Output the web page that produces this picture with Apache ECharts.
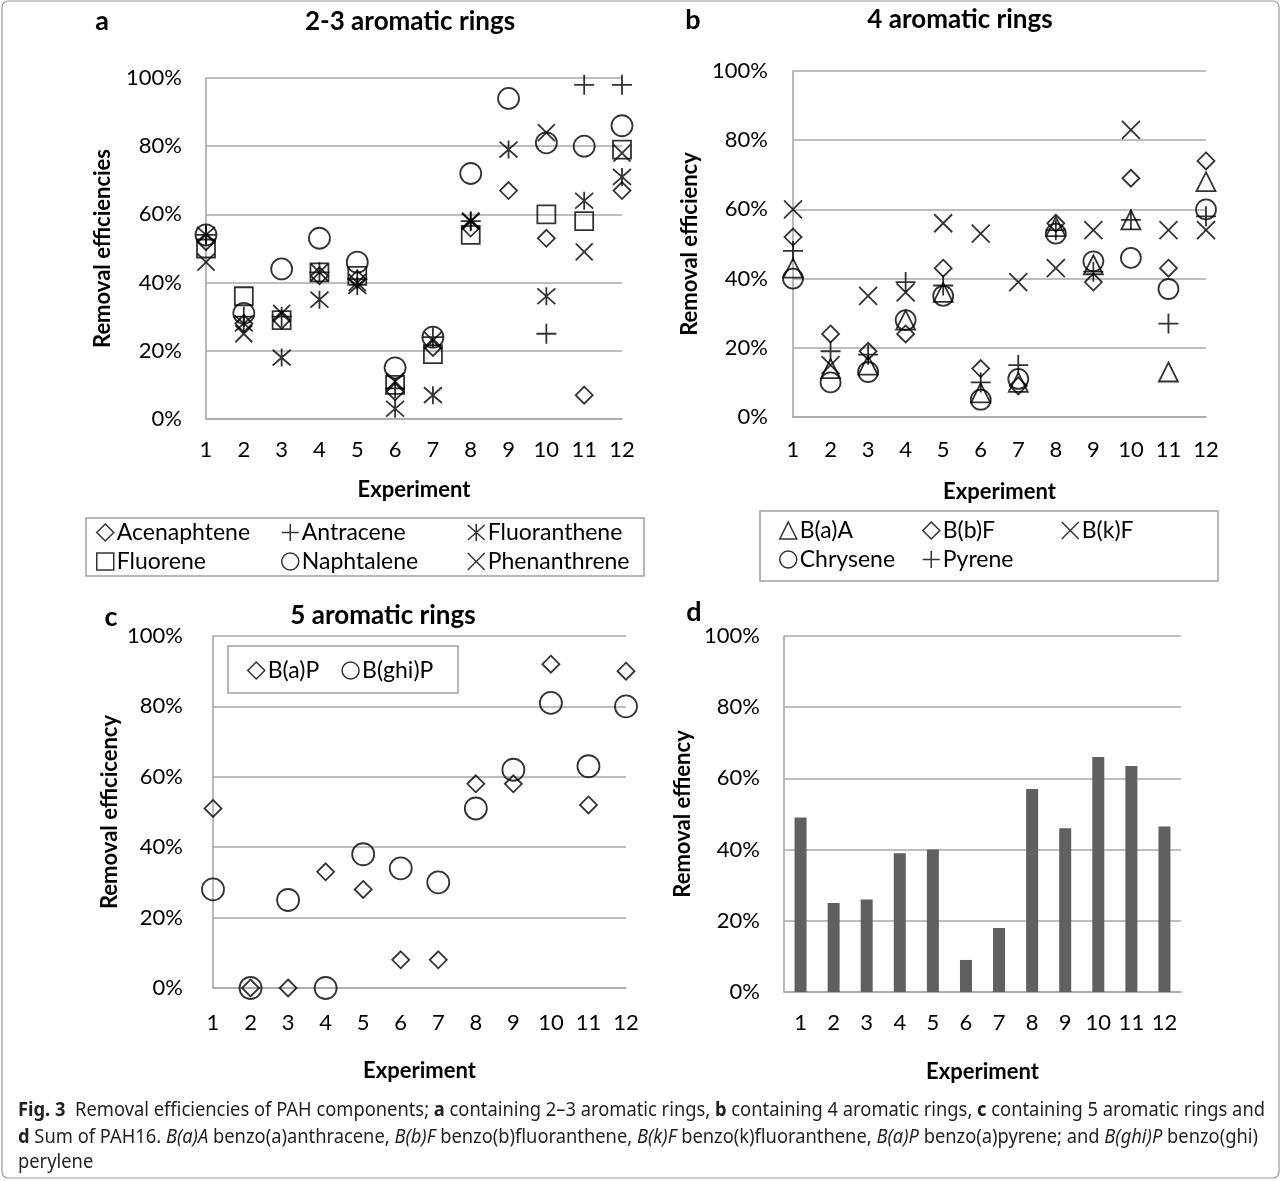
<!DOCTYPE html>
<html>
<head>
<meta charset="utf-8">
<script src="https://cdn.jsdelivr.net/npm/echarts@6/dist/echarts.min.js"></script>
<style>
html,body{margin:0;padding:0;background:#fff;}
#main{width:1282px;height:1181px;}
</style>
</head>
<body>
<div id="main"></div>
<script>
// ---------------- DATA ----------------
const experiments = ['1','2','3','4','5','6','7','8','9','10','11','12'];

// Panel a: 2-3 aromatic rings (removal %)
const acenaphtene  = [52, 28, 29, 42, 41, 8, 21, 56, 67, 53, 7, 67];
const antracene    = [54, 30, 30, 43, 41, 9, 24, 58, null, 25, 98, 98];
const fluoranthene = [54, 28, 18, 35, 39, 3, 7, 58, 79, 36, 64, 71];
const fluorene     = [50, 36, 29, 43, 42, 10, 19, 54, null, 60, 58, 79];
const naphtalene   = [54, 31, 44, 53, 46, 15, 24, 72, 94, 81, 80, 86];
const phenanthrene = [46, 25, 31, 43, 40, 11, 23, 58, null, 84, 49, 78];

// Panel b: 4 aromatic rings
const baa      = [43, 14, 15, 28, 36, 7, 10, 55, 44, 57, 13, 68];
const bbf      = [52, 24, 19, 24, 43, 14, 9, 56, 39, 69, 43, 74];
const bkf      = [60, 15, 35, 36, 56, 53, 39, 43, 54, 83, 54, 54];
const chrysene = [40, 10, 13, 28, 35, 5, 11, 53, 45, 46, 37, 60];
const pyrene   = [48, 19, 18, 39, 38, 10, 15, 54, 42, 57, 27, 58];

// Panel c: 5 aromatic rings
const bap   = [51, 0, 0, 33, 28, 8, 8, 58, 58, 92, 52, 90];
const bghip = [28, 0, 25, 0, 38, 34, 30, 51, 62, 81, 63, 80];

// Panel d: sum of PAH16
const sumPAH = [49, 25, 26, 39, 40, 9, 18, 57, 46, 66, 63.5, 46.5];

// y ticks
const yMin = 0, yMax = 100, yStep = 20;

// ---------------- STYLE ----------------
const FONT = 'Lato';
const GRID_COLOR = '#a8a8a8';
const SYM = {
  plus: 'path://M5,0L5,10M0,5L10,5',
  cross: 'path://M0,0L10,10M10,0L0,10',
  aster: 'path://M0,0.6L10,9.4M10,0.6L0,9.4M5,0L5,10'
};
const markerStyle = {color: 'transparent', borderColor: '#000', borderWidth: 1.8};

function makeX(gi, gap, margin, boundaryGap) {
  return {
    type: 'category', gridIndex: gi, data: experiments, boundaryGap: boundaryGap,
    axisLine: {show: true, lineStyle: {color: GRID_COLOR, width: 1.6}},
    axisTick: {show: false},
    axisLabel: {fontSize: 22, color: '#000', fontFamily: FONT, margin: margin, interval: 0},
    name: 'Experiment', nameLocation: 'middle', nameGap: gap,
    nameTextStyle: {fontSize: 22, fontWeight: 'bold', color: '#000', fontFamily: FONT}
  };
}
function makeY(gi, name, gap, margin) {
  return {
    type: 'value', gridIndex: gi, min: yMin, max: yMax, interval: yStep,
    axisLine: {show: true, lineStyle: {color: GRID_COLOR, width: 1.6}},
    axisTick: {show: false},
    splitLine: {lineStyle: {color: GRID_COLOR, width: 1.6}},
    axisLabel: {fontSize: 22, color: '#000', fontFamily: FONT, margin: margin, formatter: '{value}%'},
    name: name, nameLocation: 'middle', nameGap: gap, nameRotate: 90,
    nameTextStyle: {fontSize: 22, fontWeight: 'bold', color: '#000', fontFamily: FONT}
  };
}
function sc(name, data, gi, symbol, size) {
  return {
    type: 'scatter', name: name, xAxisIndex: gi, yAxisIndex: gi, data: data,
    symbol: symbol, symbolSize: size, itemStyle: markerStyle, silent: true, animation: false
  };
}
function legend(names, left, top) {
  return {
    data: names, orient: 'vertical', left: left, top: top, padding: 0, itemGap: 6,
    itemWidth: 17, itemHeight: 17, selectedMode: false,
    itemStyle: {color: 'transparent', borderColor: '#000', borderWidth: 1.5},
    textStyle: {fontSize: 23, color: '#000', fontFamily: FONT, padding: [0, 0, 0, -2]}
  };
}

const chart = echarts.init(document.getElementById('main'), null, {renderer: 'canvas'});

// ---------------- CAPTION (measured and condensed to fit) ----------------
const CAP_FONT = 'Noto Sans', CAP_SIZE = 19;
const capLines = [
  [{t:'Fig. 3', b:1}, {t:'  Removal efficiencies of PAH components; '}, {t:'a', b:1}, {t:' containing 2–3 aromatic rings, '}, {t:'b', b:1}, {t:' containing 4 aromatic rings, '}, {t:'c', b:1}, {t:' containing 5 aromatic rings and'}],
  [{t:'d', b:1}, {t:' Sum of PAH16. '}, {t:'B(a)A', i:1}, {t:' benzo(a)anthracene, '}, {t:'B(b)F', i:1}, {t:' benzo(b)fluoranthene, '}, {t:'B(k)F', i:1}, {t:' benzo(k)fluoranthene, '}, {t:'B(a)P', i:1}, {t:' benzo(a)pyrene; and '}, {t:'B(ghi)P', i:1}, {t:' benzo(ghi)'}],
  [{t:'perylene'}]
];
const mctx = document.createElement('canvas').getContext('2d');
function segWidth(segs) {
  let w = 0;
  segs.forEach(s => {
    mctx.font = (s.i ? 'italic ' : '') + (s.b ? 'bold ' : '') + CAP_SIZE + 'px "' + CAP_FONT + '"';
    w += mctx.measureText(s.t).width;
  });
  return w;
}
const capScale = 1247 / segWidth(capLines[0]);
const capY = [1111, 1138, 1163];
const richCap = {
  b: {fontWeight: 'bold', fontSize: CAP_SIZE, fontFamily: CAP_FONT, fill: '#231f20'},
  i: {fontStyle: 'italic', fontSize: CAP_SIZE, fontFamily: CAP_FONT, fill: '#231f20'}
};
const captionEls = capLines.map((segs, k) => ({
  type: 'text', x: 18, y: capY[k], scaleX: capScale, silent: true,
  style: {
    text: segs.map(s => s.b ? '{b|' + s.t + '}' : (s.i ? '{i|' + s.t + '}' : s.t)).join(''),
    rich: richCap, fontSize: CAP_SIZE, fontFamily: CAP_FONT, fill: '#231f20', verticalAlign: 'middle'
  }
}));

function label(text, x, y, size, align) {
  return {type: 'text', x: x, y: y, silent: true,
    style: {text: text, fontSize: size, fontWeight: 'bold', fontFamily: FONT, fill: '#000',
      align: align || 'center', verticalAlign: 'middle'}};
}
function box(x, y, w, h) {
  return {type: 'rect', silent: true, shape: {x: x, y: y, width: w, height: h},
    style: {fill: 'none', stroke: '#a0a0a0', lineWidth: 1.5}, z: -1};
}

const option = {
  backgroundColor: '#fff',
  animation: false,
  grid: [
    {left: 206, top: 78, width: 416, height: 341},
    {left: 793, top: 71, width: 413, height: 346},
    {left: 213, top: 636, width: 413, height: 352},
    {left: 784, top: 636, width: 397, height: 356}
  ],
  xAxis: [
    makeX(0, 60, 20, false),
    makeX(1, 64, 22, false),
    makeX(2, 72, 24, false),
    makeX(3, 69, 20, true)
  ],
  yAxis: [
    makeY(0, 'Removal efficiencies', 92, 24),
    makeY(1, 'Removal efficiency', 92, 25),
    makeY(2, 'Removal efficicency', 92, 30),
    makeY(3, 'Removal effiency', 90, 24)
  ],
  legend: [
    legend(['Acenaphtene', 'Fluorene'], 96, 521),
    legend(['Antracene', 'Naphtalene'], 281, 521),
    legend(['Fluoranthene', 'Phenanthrene'], 467, 521),
    legend(['B(a)A', 'Chrysene'], 779, 519),
    legend(['B(b)F', 'Pyrene'], 922, 519),
    legend(['B(k)F'], 1061, 519),
    {data: ['B(a)P', 'B(ghi)P'], orient: 'horizontal', left: 247, top: 659, padding: 0, itemGap: 22,
     itemWidth: 17, itemHeight: 17, selectedMode: false,
     itemStyle: {color: 'transparent', borderColor: '#000', borderWidth: 1.5},
     textStyle: {fontSize: 23, color: '#000', fontFamily: FONT, padding: [0, 0, 0, -2]}}
  ],
  series: [
    sc('Acenaphtene', acenaphtene, 0, 'diamond', [17, 17]),
    sc('Antracene', antracene, 0, SYM.plus, 20),
    sc('Fluoranthene', fluoranthene, 0, SYM.aster, 18),
    sc('Fluorene', fluorene, 0, 'rect', 18),
    sc('Naphtalene', naphtalene, 0, 'circle', 21),
    sc('Phenanthrene', phenanthrene, 0, SYM.cross, 17),

    sc('B(a)A', baa, 1, 'triangle', 19),
    sc('B(b)F', bbf, 1, 'diamond', [17, 17]),
    sc('B(k)F', bkf, 1, SYM.cross, 18),
    sc('Chrysene', chrysene, 1, 'circle', 20),
    sc('Pyrene', pyrene, 1, SYM.plus, 20),

    sc('B(a)P', bap, 2, 'diamond', [17, 17]),
    sc('B(ghi)P', bghip, 2, 'circle', 22),

    {type: 'bar', name: 'Sum of PAH16', xAxisIndex: 3, yAxisIndex: 3, data: sumPAH,
     barWidth: 12, itemStyle: {color: '#606060'}, silent: true}
  ],
  graphic: [
    {type: 'rect', silent: true, shape: {x: 2, y: 1, width: 1277, height: 1177, r: 6},
     style: {fill: 'none', stroke: '#9a9a9a', lineWidth: 1.2}},
    label('a', 102, 21, 27), label('2-3 aromatic rings', 410, 22, 26),
    label('b', 693, 20, 27), label('4 aromatic rings', 960, 20, 26),
    label('c', 111, 617, 27), label('5 aromatic rings', 383, 616, 26),
    label('d', 694, 612, 27),
    box(86, 518, 558, 58),
    box(760, 511, 458, 70),
    box(228, 646, 230, 47)
  ].concat(captionEls)
};
chart.setOption(option);
</script>
</body>
</html>
